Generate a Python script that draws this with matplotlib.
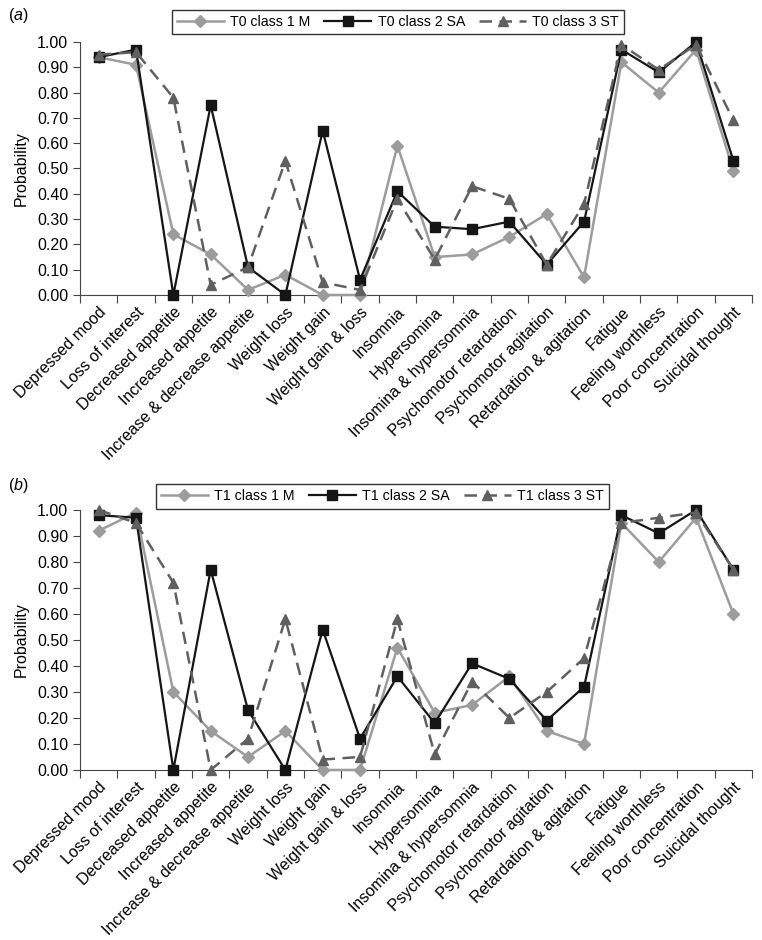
import matplotlib
matplotlib.use('Agg')
import matplotlib.pyplot as plt
import numpy as np

plt.rcParams['font.family'] = ['Liberation Sans', 'DejaVu Sans']
plt.rcParams['mathtext.fontset'] = 'custom'
plt.rcParams['mathtext.rm'] = 'Liberation Sans'
plt.rcParams['mathtext.it'] = 'Liberation Sans:italic'

symptoms = ['Depressed mood', 'Loss of interest', 'Decreased appetite', 'Increased appetite',
            'Increase & decrease appetite', 'Weight loss', 'Weight gain', 'Weight gain & loss',
            'Insomnia', 'Hypersomina', 'Insomina & hypersomnia', 'Psychomotor retardation',
            'Psychomotor agitation', 'Retardation & agitation', 'Fatigue', 'Feeling worthless',
            'Poor concentration', 'Suicidal thought']

# panel (a), T0
t0_class1 = [0.94, 0.91, 0.24, 0.16, 0.02, 0.08, 0.00, 0.00, 0.59, 0.15, 0.16, 0.23, 0.32, 0.07, 0.92, 0.80, 0.97, 0.49]
t0_class2 = [0.94, 0.97, 0.00, 0.75, 0.11, 0.00, 0.65, 0.06, 0.41, 0.27, 0.26, 0.29, 0.12, 0.29, 0.97, 0.88, 1.00, 0.53]
t0_class3 = [0.95, 0.96, 0.78, 0.04, 0.11, 0.53, 0.05, 0.02, 0.38, 0.14, 0.43, 0.38, 0.12, 0.36, 0.99, 0.89, 0.99, 0.69]

# panel (b), T1
t1_class1 = [0.92, 0.99, 0.30, 0.15, 0.05, 0.15, 0.00, 0.00, 0.47, 0.22, 0.25, 0.36, 0.15, 0.10, 0.95, 0.80, 0.97, 0.60]
t1_class2 = [0.98, 0.97, 0.00, 0.77, 0.23, 0.00, 0.54, 0.12, 0.36, 0.18, 0.41, 0.35, 0.19, 0.32, 0.98, 0.91, 1.00, 0.77]
t1_class3 = [1.00, 0.95, 0.72, 0.00, 0.12, 0.58, 0.04, 0.05, 0.58, 0.06, 0.34, 0.20, 0.30, 0.43, 0.95, 0.97, 0.99, 0.77]

fig = plt.figure(figsize=(7.62, 9.40), dpi=100)
ax_a = fig.add_axes([0.105, 0.6862, 0.882, 0.2691])
ax_b = fig.add_axes([0.105, 0.1809, 0.882, 0.2766])


def draw(ax, tag, c1, c2, c3, leg_xy):
    x = np.arange(len(symptoms))
    ax.plot(x, c1, color='#9c9c9c', lw=1.8, marker='D', ms=6.5, mec='#9c9c9c', mfc='#9c9c9c',
            label=tag + ' class 1 M', clip_on=False, zorder=3)
    ax.plot(x, c2, color='#151515', lw=1.6, marker='s', ms=7, mec='#151515', mfc='#151515',
            label=tag + ' class 2 SA', clip_on=False, zorder=4)
    ax.plot(x, c3, color='#606060', lw=1.8, ls=(0, (5, 3)), marker='^', ms=7, mec='#606060',
            mfc='#606060', label=tag + ' class 3 ST', clip_on=False, zorder=5)
    ax.set_xlim(-0.5, len(symptoms) - 0.5)
    ax.set_ylim(0, 1)
    ticks = np.arange(0, 1.01, 0.1)
    ax.set_yticks(ticks)
    ax.set_yticklabels(['%.2f' % v for v in ticks], fontsize=11.5)
    ax.set_xticks(np.arange(-0.5, len(symptoms)), labels=[])
    ax.set_xticks(x, minor=True)
    ax.set_xticklabels(symptoms, minor=True, rotation=45, ha='right', rotation_mode='anchor',
                       fontsize=11.5)
    ax.tick_params(axis='x', which='minor', length=0, pad=7)
    ax.tick_params(axis='x', which='major', length=6, direction='out', color='#444444')
    ax.tick_params(axis='y', length=5, direction='out', color='#444444')
    ax.spines['top'].set_visible(False)
    ax.spines['right'].set_visible(False)
    ax.spines['left'].set_color('#444444')
    ax.spines['bottom'].set_color('#444444')
    ax.set_ylabel('Probability', fontsize=11.5, labelpad=6)
    leg = ax.legend(loc='center', bbox_to_anchor=leg_xy, ncol=3, fontsize=10.2, frameon=True,
                    fancybox=False, edgecolor='black', handlelength=3.3, columnspacing=1.0,
                    borderpad=0.38, handletextpad=0.45)
    leg.get_frame().set_linewidth(1.0)


draw(ax_a, 'T0', t0_class1, t0_class2, t0_class3, (0.473, 1.079))
draw(ax_b, 'T1', t1_class1, t1_class2, t1_class3, (0.450, 1.052))

fig.text(0.010, 0.984, r'($\mathit{a}$)', fontsize=11.5, va='center')
fig.text(0.010, 0.4835, r'($\mathit{b}$)', fontsize=11.5, va='center')

fig.savefig('out.png', dpi=100)
